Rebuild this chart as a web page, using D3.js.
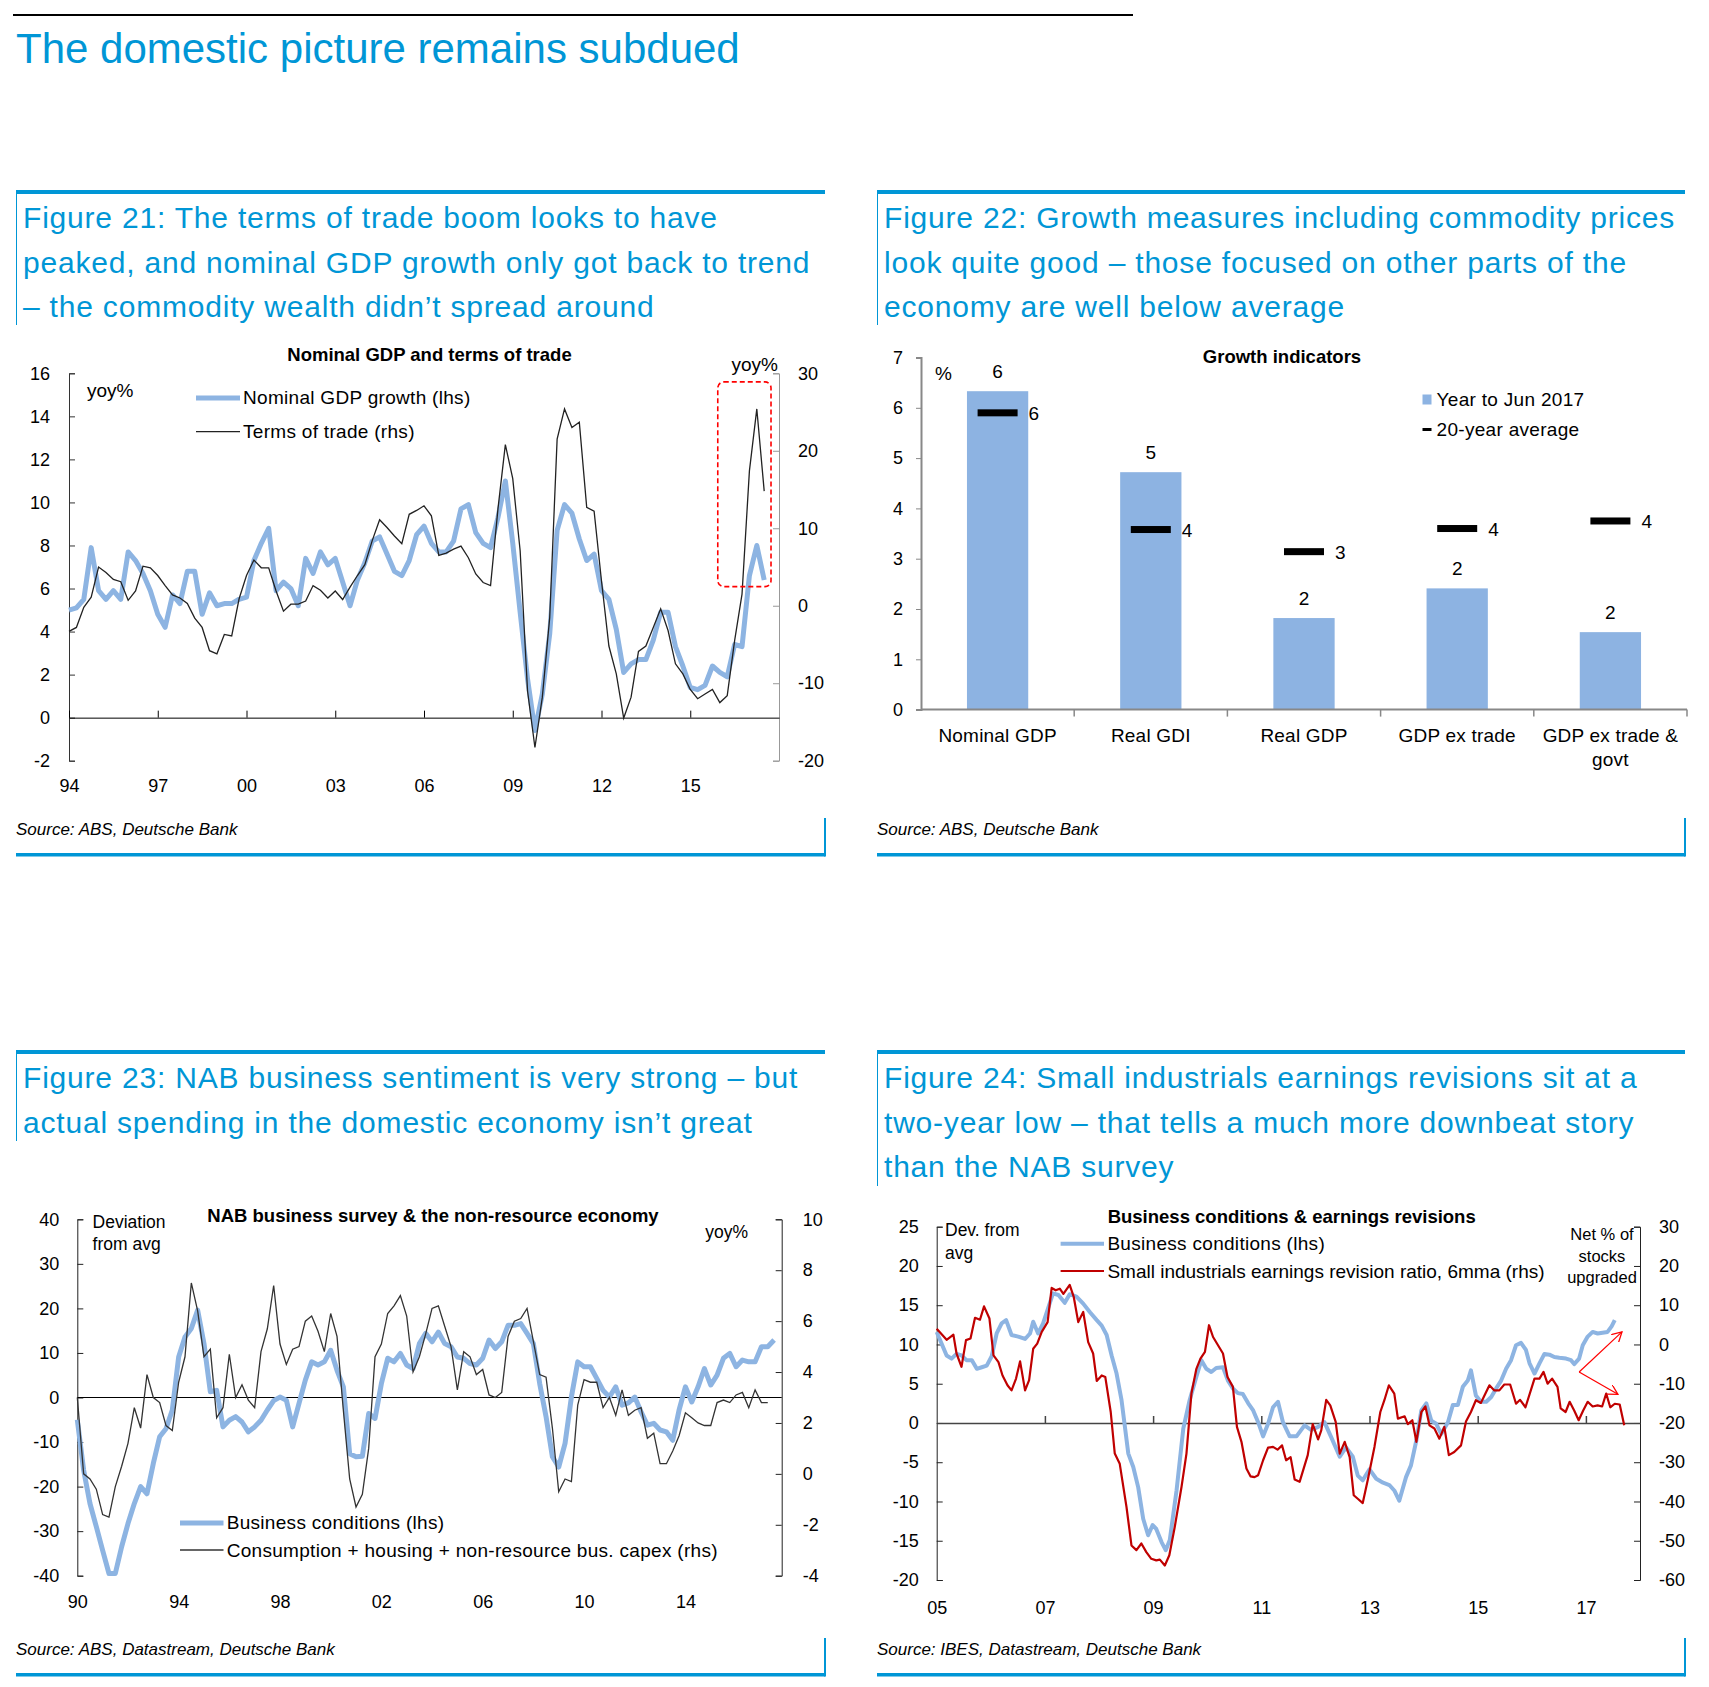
<!DOCTYPE html>
<html>
<head>
<meta charset="utf-8">
<script src="https://cdn.jsdelivr.net/npm/d3@7"></script>
<style>
body { margin: 0; background: #fff; }
svg { display: block; font-family: "Liberation Sans", Arial, sans-serif; }
</style>
</head>
<body>
<script>
// ---- Figure 21 : quarterly, 1994Q1 .. 2017Q3
var gdpGrowth = [5.0,5.1,5.5,7.9,5.9,5.5,5.9,5.5,7.7,7.3,
  6.7,5.9,4.8,4.2,5.7,5.3,6.8,6.8,4.8,5.8,
  5.2,5.3,5.3,5.5,5.6,7.3,8.1,8.8,5.9,6.3,
  6.0,5.2,7.4,6.7,7.7,7.1,7.4,6.3,5.2,6.4,
  7.2,8.2,8.4,7.6,6.8,6.6,7.3,8.5,8.9,8.1,
  7.7,7.7,8.2,9.7,9.9,8.6,8.1,7.9,9.3,11.0,
  8.1,4.9,1.8,-0.6,1.1,3.9,8.7,9.9,9.5,8.3,
  7.3,7.6,5.9,5.5,4.1,2.1,2.5,2.7,2.7,3.6,
  4.9,4.9,3.3,2.4,1.4,1.3,1.5,2.4,2.1,1.9,
  3.4,3.3,6.6,8.0,6.4]
var termsOfTrade = [-3.3,-2.8,-0.2,1.1,5.0,4.3,3.4,3.1,0.7,1.9,
  5.1,4.9,3.9,2.6,1.4,1.0,0.3,-1.6,-2.8,-5.8,
  -6.2,-3.7,-3.9,0.9,3.9,5.9,4.9,4.9,1.9,-0.7,
  0.2,0.2,0.6,2.6,2.0,1.0,1.9,0.8,2.4,3.9,
  5.3,8.4,11.1,10.1,9.0,8.0,11.8,12.3,12.9,11.6,
  6.5,6.8,7.3,7.7,6.2,4.1,3.0,2.6,12.5,20.8,
  16.4,7.1,-11.0,-18.3,-11.8,-1.5,21.5,25.4,23.0,23.7,
  12.7,12.2,3.2,-5.2,-8.8,-14.5,-11.8,-5.9,-5.2,-2.8,
  -0.4,-3.2,-7.5,-8.8,-10.8,-12.0,-11.4,-10.8,-12.5,-11.6,
  -4.5,1.5,17.4,25.4,14.8]
var fig21Start = 1994
var fig21YearTicks = [1994,1997,2000,2003,2006,2009,2012,2015]
var fig21Box = {x: [2015.93, 2017.73], y: [6.09, 15.6]}

// ---- Figure 22
var growthCats = ["Nominal GDP","Real GDI","Real GDP","GDP ex trade","GDP ex trade & govt"]
var yearToJun2017 = [6.33,4.72,1.82,2.41,1.54]
var avg20y = [5.9,3.58,3.14,3.6,3.75]

// ---- Figure 23 : quarterly from 1990Q1
var nabConditions = [-5.0,-16.3,-23.8,-29.0,-34.3,-39.5,-39.5,-33.5,-28.3,-23.8,
  -20.0,-21.6,-14.8,-8.8,-7.0,-2.8,9.1,13.6,15.5,19.6,
  12.1,1.3,1.6,-6.6,-5.1,-4.3,-5.5,-7.7,-6.6,-5.1,
  -2.8,-0.7,0.1,-0.6,-6.6,-1.3,3.9,8.0,7.3,8.0,
  10.6,6.1,2.4,-12.6,-13.3,-13.2,-3.6,-4.7,3.1,8.8,
  8.0,9.9,7.3,6.5,12.1,14.4,12.5,14.7,12.1,11.4,
  9.1,8.8,7.6,7.3,8.8,12.9,11.0,12.5,16.2,16.2,
  16.6,14.4,12.1,3.1,-4.3,-13.3,-15.6,-10.3,0.1,8.0,
  6.9,6.9,4.3,1.6,0.1,2.4,-1.7,-1.2,0.1,-3.2,
  -6.2,-5.8,-7.3,-7.7,-9.6,-2.8,2.4,-1.0,2.4,6.5,
  2.8,5.0,8.8,9.9,6.9,8.4,8.0,8.0,11.4,11.4,
  12.9]
var nonResource = [3.0,0.0,-0.2,-0.6,-1.6,-1.7,-0.5,0.3,1.2,2.6,
  1.8,3.9,3.0,2.8,1.9,1.7,3.6,4.6,7.5,6.4,
  4.6,4.9,2.2,2.6,4.7,3.0,3.5,2.9,2.6,4.8,
  5.7,7.4,5.1,4.3,4.9,5.0,6.0,6.2,5.6,4.8,
  6.3,5.4,2.5,-0.2,-1.3,-0.8,1.0,4.6,5.1,6.3,
  6.6,7.0,6.2,4.0,4.6,5.5,6.5,6.6,5.8,5.0,
  3.3,4.8,4.6,3.9,4.1,3.1,3.0,3.2,5.4,6.0,
  6.1,6.5,5.2,3.9,3.8,1.8,-0.7,-0.2,-0.3,2.7,
  3.7,3.6,3.6,2.6,3.0,2.3,3.3,2.3,2.5,2.6,
  1.4,1.6,0.4,0.4,0.9,1.5,2.4,2.2,2.0,1.9,
  1.9,2.8,2.9,2.8,3.1,3.2,2.6,3.3,2.8,2.8]
var fig23Start = 1990
var fig23YearTicks = [1990,1994,1998,2002,2006,2010,2014]

// ---- Figure 24 : [months since Jan 2005, value]
var bizCond = [[0,11.6],[1.1,10.1],[2.2,8.6],[3.3,8.2],[4.4,8.8],[5.5,8.6],[6.6,8.0],[7.8,8.0],[8.9,6.9],[10,7.1],
  [11.1,7.3],[12.2,8.5],[13.3,11.4],[14.4,12.7],[15.4,13.1],[16.6,11.2],[18.1,11.0],[19.6,10.7],[20.7,11.4],[21.4,12.9],
  [22.5,11.4],[23.6,12.7],[24.7,14.6],[25.8,16.5],[27,16.3],[28.4,15.3],[29.5,16.4],[31,16.1],[32.5,15.2],[34,14.1],
  [35.5,13.1],[36.6,12.4],[37.7,11.2],[38.8,8.6],[39.9,6.3],[41,2.9],[42.5,-3.9],[43.6,-5.6],[44.7,-8.2],[45.8,-12.2],
  [46.9,-14.3],[47.9,-13.0],[48.7,-13.5],[49.9,-15.2],[50.8,-16.2],[51.7,-14.9],[53.2,-8.6],[54.7,-0.7],[56.1,2.9],[57.6,5.9],
  [58.7,8.0],[59.8,6.9],[60.9,6.5],[62,7.0],[63.5,7.1],[64.6,5.4],[65.7,4.4],[66.8,3.8],[67.9,3.7],[69.1,2.5],
  [70.2,1.6],[71.3,0.1],[72.4,-1.7],[73.5,-0.1],[74.6,2.0],[75.7,2.7],[76.8,0.1],[78.3,-1.7],[79.8,-1.7],[81.6,-0.3],
  [83.1,-0.9],[84.6,-0.5],[86,0.1],[87.5,-1.8],[89.4,-4.3],[90.8,-3.1],[92.3,-4.3],[93.4,-6.7],[94.5,-7.3],[96,-5.9],
  [97.5,-7.1],[99,-7.6],[100.4,-7.9],[101.5,-8.6],[102.6,-9.9],[104.1,-6.9],[105.2,-5.4],[106.4,-2.2],[107.5,1.6],[108.6,2.5],
  [109.7,0.3],[110.8,-0.1],[111.9,-1.4],[113.4,0.1],[114.5,2.3],[115.6,2.3],[116.7,4.6],[117.8,5.4],[118.5,6.7],[119.6,3.5],
  [120.7,2.7],[121.9,2.7],[123,3.3],[124.1,4.4],[125.2,5.4],[126.3,6.9],[127.4,8.0],[128.5,9.9],[129.6,10.2],[130.7,9.3],
  [131.5,7.6],[132.6,6.3],[133.7,7.6],[134.8,8.8],[135.9,8.7],[137,8.4],[138.1,8.3],[139.6,8.2],[140.7,8.0],[141.4,7.5],
  [142.5,8.2],[143.3,9.9],[144.4,11.0],[145.5,11.6],[146.6,11.4],[147.7,11.5],[148.8,11.6],[149.7,12.3],[150.4,13.1]]
var revRatio = [[0,4.0],[1.1,2.6],[2.2,1.2],[3,1.9],[3.7,2.5],[4.4,-2.3],[5.5,-5.7],[6.5,1.1],[7.5,1.5],[8.5,6.8],
  [9.6,6.3],[10.5,9.7],[11.7,6.6],[12.6,-2.8],[13.7,-4.5],[14.6,-7.9],[15.7,-10.4],[16.6,-11.7],[17.6,-8.7],[18.5,-4.3],
  [19.6,-11.7],[20.5,-9.1],[21.4,-1.1],[22.3,0.2],[23.3,3.2],[24.6,5.7],[25.5,14.4],[26.4,13.8],[27.3,14.2],[28.1,12.9],
  [29.5,15.2],[30.4,12.1],[31.4,5.7],[32.5,8.3],[33.6,0.6],[34.7,-2.3],[35.5,-9.3],[36.6,-7.9],[37.4,-8.3],[38.6,-17.2],
  [39.5,-27.8],[40.6,-30.4],[42.1,-41.4],[43.2,-51.2],[44.3,-52.4],[45.4,-50.7],[46.5,-52.9],[47.6,-54.6],[48.7,-55.0],[49.5,-54.8],
  [50.6,-56.3],[51.6,-53.7],[52.8,-46.5],[54.3,-36.3],[55.4,-27.8],[56.5,-12.5],[57.6,-6.2],[58.5,-3.6],[59.5,-1.9],[60.4,4.9],
  [61.3,1.9],[62.4,-0.2],[63.5,-2.3],[64.5,-8.3],[65.7,-10.8],[66.6,-21.0],[67.6,-24.8],[68.7,-31.6],[69.6,-33.6],[70.5,-33.8],
  [71.3,-33.3],[72.4,-29.5],[73.5,-26.3],[74.6,-26.1],[75.6,-26.8],[76.6,-25.7],[77.5,-29.5],[78.5,-28.7],[79.4,-34.4],[80.5,-35.0],
  [82.3,-28.2],[83.4,-20.3],[84.6,-24.2],[85.3,-21.9],[86.4,-14.1],[87.3,-15.5],[88.5,-19.7],[89.4,-27.8],[90.5,-24.8],[91.6,-28.7],
  [92.5,-38.4],[93.4,-39.3],[94.5,-40.4],[95.6,-34.6],[97.1,-26.1],[98.4,-17.2],[99.3,-14.2],[100.3,-10.4],[101.5,-12.5],[102.3,-18.9],
  [103.8,-18.3],[104.5,-20.3],[105.5,-19.3],[106.4,-24.8],[107.5,-17.2],[108.4,-15.8],[109.3,-20.6],[110.4,-21.4],[111.5,-24.0],[112.6,-21.0],
  [113.6,-28.2],[114.8,-27.4],[116.3,-25.7],[117.4,-19.6],[118.5,-17.2],[119.6,-14.2],[120.7,-14.9],[122.6,-10.4],[123.7,-11.7],[124.8,-11.7],
  [125.9,-10.2],[127.2,-10.2],[128.5,-15.1],[129.4,-14.1],[130.6,-16.0],[132.6,-8.7],[133.7,-8.7],[134.6,-7.0],[135.5,-10.0],[136.5,-8.7],
  [137.7,-10.8],[138.4,-16.3],[139.5,-17.2],[140.4,-14.6],[141.4,-16.8],[142.4,-19.3],[143.4,-16.8],[144.4,-14.6],[145.5,-15.8],[146.6,-15.5],
  [147.6,-15.8],[148.5,-12.5],[149.4,-16.0],[150.4,-15.1],[151.5,-15.3],[152.5,-20.6]]
var fig24Start = 2005
var fig24YearTicks = [2005,2007,2009,2011,2013,2015,2017]
var arrowFrom = [142.5, 6.5]
var arrowTo = [[152, 11.6], [151.1, 3.65]]

var BLUE_T = "#0096d6", LINE_BLUE = "#8db4e2", FONT = "Liberation Sans, Arial, sans-serif"

var svg = d3.select("body").append("svg").attr("width", 1709).attr("height", 1687)

var defs = svg.append("defs")
defs.append("marker").attr("id", "arr").attr("viewBox", "0 0 10 10").attr("refX", 9).attr("refY", 5)
  .attr("markerWidth", 9).attr("markerHeight", 9).attr("orient", "auto-start-reverse")
  .append("path").attr("d", "M0,0 L9,5 L0,10").attr("fill", "none").attr("stroke", "#ff0000").attr("stroke-width", 1.2)

function txt(g, x, y, s, size, opts) {
  opts = opts || {}
  return g.append("text").attr("x", x).attr("y", y).text(s)
    .attr("font-size", size).attr("fill", opts.fill || "#000")
    .attr("text-anchor", opts.anchor || "start")
    .attr("font-weight", opts.weight || "normal")
    .attr("font-style", opts.style || "normal")
    .attr("letter-spacing", opts.ls || 0)
}
function styleAxis(g, col, size) {
  g.attr("font-family", FONT).attr("font-size", size || 18)
  g.selectAll("path, line").attr("stroke", col)
  g.selectAll("text").attr("fill", "#000")
}
var yrFmt = function(d) { return String(d % 100).padStart(2, "0") }
var plain = function(d) { return String(d) }
var LEG = {ls: 0.3}

// ---- page header
svg.append("line").attr("x1", 13).attr("x2", 1133).attr("y1", 15).attr("y2", 15).attr("stroke", "#000").attr("stroke-width", 2)
txt(svg, 16, 63, "The domestic picture remains subdued", 42, {fill: BLUE_T})

// ---- figure frames
function frame(x0, x1, top, lines, lineBottom, srcY, src, botY) {
  svg.append("rect").attr("x", x0).attr("y", top - 2).attr("width", x1 - x0).attr("height", 4).attr("fill", BLUE_T)
  svg.append("line").attr("x1", x0 + 0.5).attr("x2", x0 + 0.5).attr("y1", top).attr("y2", lineBottom).attr("stroke", BLUE_T).attr("stroke-width", 1)
  lines.forEach(function(s, i) { txt(svg, x0 + 7, top + 36 + i * 44.6, s, 30, {fill: BLUE_T, ls: 0.8}) })
  txt(svg, x0, srcY, src, 17, {style: "italic"})
  svg.append("rect").attr("x", x0).attr("y", botY - 2).attr("width", x1 - x0).attr("height", 3.5).attr("fill", BLUE_T)
  svg.append("line").attr("x1", x1).attr("x2", x1).attr("y1", botY - 37).attr("y2", botY + 1.5).attr("stroke", BLUE_T).attr("stroke-width", 2)
}
frame(16, 825, 192, ["Figure 21: The terms of trade boom looks to have",
  "peaked, and nominal GDP growth only got back to trend",
  "\u2013 the commodity wealth didn\u2019t spread around"], 325, 835, "Source: ABS, Deutsche Bank", 855)
frame(877, 1685, 192, ["Figure 22: Growth measures including commodity prices",
  "look quite good \u2013 those focused on other parts of the",
  "economy are well below average"], 325, 835, "Source: ABS, Deutsche Bank", 855)
frame(16, 825, 1052, ["Figure 23: NAB business sentiment is very strong \u2013 but",
  "actual spending in the domestic economy isn\u2019t great"], 1141, 1655, "Source: ABS, Datastream, Deutsche Bank", 1675)
frame(877, 1685, 1052, ["Figure 24: Small industrials earnings revisions sit at a",
  "two-year low \u2013 that tells a much more downbeat story",
  "than the NAB survey"], 1186, 1655, "Source: IBES, Datastream, Deutsche Bank", 1675)

// ================= Figure 21 chart
;(function() {
  var g = svg.append("g")
  var x = d3.scaleLinear().domain([1994, 2018]).range([69, 779])
  var yL = d3.scaleLinear().domain([-2, 16]).range([760.7, 373.3])
  var yR = d3.scaleLinear().domain([-20, 30]).range([760.7, 373.3])
  var q = function(i) { return fig21Start + i * 0.25 }

  var ax = g.append("g").attr("transform", "translate(69,0)")
    .call(d3.axisLeft(yL).tickValues(d3.range(-2, 17, 2)).tickFormat(plain).tickSize(-6).tickSizeOuter(-6).tickPadding(19))
  styleAxis(ax, "#333")
  var axr = g.append("g").attr("transform", "translate(779,0)")
    .call(d3.axisRight(yR).tickValues(d3.range(-20, 31, 10)).tickFormat(plain).tickSize(-6).tickSizeOuter(-6).tickPadding(19))
  styleAxis(axr, "#999")
  var ax0 = g.append("g").attr("transform", "translate(0," + yL(0) + ")")
    .call(d3.axisBottom(x).tickValues(fig21YearTicks).tickFormat("").tickSize(-7).tickSizeOuter(0))
  styleAxis(ax0, "#000")
  var axl = g.append("g").attr("transform", "translate(0,760.7)")
    .call(d3.axisBottom(x).tickValues(fig21YearTicks).tickFormat(yrFmt).tickSize(0).tickPadding(19))
  styleAxis(axl, "#000")
  axl.select(".domain").remove()

  g.append("path").datum(gdpGrowth).attr("fill", "none").attr("stroke", LINE_BLUE).attr("stroke-width", 5)
    .attr("stroke-linejoin", "round")
    .attr("d", d3.line().x(function(d, i) { return x(q(i)) }).y(function(d) { return yL(d) }))
  g.append("path").datum(termsOfTrade).attr("fill", "none").attr("stroke", "#222").attr("stroke-width", 1.3)
    .attr("d", d3.line().x(function(d, i) { return x(q(i)) }).y(function(d) { return yR(d) }))

  g.append("rect").attr("x", x(fig21Box.x[0])).attr("y", yL(fig21Box.y[1]))
    .attr("width", x(fig21Box.x[1]) - x(fig21Box.x[0])).attr("height", yL(fig21Box.y[0]) - yL(fig21Box.y[1]))
    .attr("rx", 6).attr("fill", "none").attr("stroke", "#ff0000").attr("stroke-width", 1.6).attr("stroke-dasharray", "5,3")

  txt(g, 429.5, 361, "Nominal GDP and terms of trade", 18.5, {anchor: "middle", weight: "bold"})
  txt(g, 87, 397, "yoy%", 19)
  txt(g, 778, 371, "yoy%", 19, {anchor: "end"})
  g.append("line").attr("x1", 196).attr("x2", 240).attr("y1", 398).attr("y2", 398).attr("stroke", LINE_BLUE).attr("stroke-width", 5)
  txt(g, 243, 404, "Nominal GDP growth (lhs)", 19, LEG)
  g.append("line").attr("x1", 196).attr("x2", 240).attr("y1", 431.6).attr("y2", 431.6).attr("stroke", "#222").attr("stroke-width", 1.3)
  txt(g, 243, 438, "Terms of trade (rhs)", 19, LEG)
})()

// ================= Figure 22 chart
;(function() {
  var g = svg.append("g")
  var x0 = 921, x1 = 1687
  var x = d3.scaleBand().domain(growthCats).range([x0, x1]).paddingInner(0.6).paddingOuter(0.3)
  var y = d3.scaleLinear().domain([0, 7]).range([709.6, 357.5])
  var step = x.step()

  var ay = g.append("g").attr("transform", "translate(" + x0 + ",0)")
    .call(d3.axisLeft(y).ticks(7).tickFormat(plain).tickSize(5).tickSizeOuter(5).tickPadding(13))
  styleAxis(ay, "#888")
  ay.select(".domain").attr("stroke-width", 2)

  g.selectAll("rect.bar").data(yearToJun2017).join("rect").attr("class", "bar")
    .attr("x", function(d, i) { return x(growthCats[i]) }).attr("width", x.bandwidth())
    .attr("y", function(d) { return y(d) }).attr("height", function(d) { return y(0) - y(d) })
    .attr("fill", "#8db3e2")
  g.selectAll("text.bl").data(yearToJun2017).join("text").attr("class", "bl")
    .attr("x", function(d, i) { return x(growthCats[i]) + x.bandwidth() / 2 }).attr("y", function(d) { return y(d) - 13 })
    .attr("text-anchor", "middle").attr("font-size", 19).text(function(d) { return Math.round(d) })
  g.selectAll("rect.avg").data(avg20y).join("rect").attr("class", "avg")
    .attr("x", function(d, i) { return x(growthCats[i]) + x.bandwidth() / 2 - 20 }).attr("width", 40)
    .attr("y", function(d) { return y(d) - 3.5 }).attr("height", 7).attr("fill", "#000")
  g.selectAll("text.al").data(avg20y).join("text").attr("class", "al")
    .attr("x", function(d, i) { return x(growthCats[i]) + x.bandwidth() / 2 + 31 }).attr("y", function(d) { return y(d) + 7 })
    .attr("font-size", 19).text(function(d) { return Math.round(d) })

  g.append("line").attr("x1", x0).attr("x2", x1).attr("y1", y(0)).attr("y2", y(0)).attr("stroke", "#888").attr("stroke-width", 2)
  g.selectAll("line.xt").data(d3.range(1, growthCats.length + 1)).join("line").attr("class", "xt")
    .attr("x1", function(k) { return x0 + k * step }).attr("x2", function(k) { return x0 + k * step })
    .attr("y1", y(0)).attr("y2", y(0) + 7).attr("stroke", "#888").attr("stroke-width", 1.5)
  growthCats.forEach(function(c, i) {
    var cx = x(c) + x.bandwidth() / 2
    if (c.length > 14) {
      txt(g, cx, 742, "GDP ex trade &", 19, {anchor: "middle", ls: 0.2})
      txt(g, cx, 766, "govt", 19, {anchor: "middle", ls: 0.2})
    } else {
      txt(g, cx, 742, c, 19, {anchor: "middle", ls: 0.2})
    }
  })

  txt(g, 1282, 363, "Growth indicators", 18.5, {anchor: "middle", weight: "bold"})
  txt(g, 935, 380, "%", 19)
  g.append("rect").attr("x", 1422.5).attr("y", 394.5).attr("width", 9).attr("height", 10).attr("fill", "#8db3e2")
  txt(g, 1436.6, 406, "Year to Jun 2017", 19, LEG)
  g.append("rect").attr("x", 1422.5).attr("y", 428).attr("width", 9).attr("height", 3).attr("fill", "#000")
  txt(g, 1436.6, 436, "20-year average", 19, LEG)
})()

// ================= Figure 23 chart
;(function() {
  var g = svg.append("g")
  var x = d3.scaleLinear().domain([1990, 2017.8]).range([77.3, 781.7])
  var yL = d3.scaleLinear().domain([-40, 40]).range([1575.7, 1219.3])
  var yR = d3.scaleLinear().domain([-4, 10]).range([1575.7, 1219.3])
  var q = function(i) { return fig23Start + i * 0.25 }

  var ax = g.append("g").attr("transform", "translate(77.3,0)")
    .call(d3.axisLeft(yL).tickValues(d3.range(-40, 41, 10)).tickFormat(plain).tickSize(-6).tickSizeOuter(-6).tickPadding(18))
  styleAxis(ax, "#222")
  var axr = g.append("g").attr("transform", "translate(781.7,0)")
    .call(d3.axisRight(yR).tickValues(d3.range(-4, 11, 2)).tickFormat(plain).tickSize(-6).tickSizeOuter(-6).tickPadding(21))
  styleAxis(axr, "#222")
  g.append("line").attr("x1", 77.3).attr("x2", 781.7).attr("y1", yL(0)).attr("y2", yL(0)).attr("stroke", "#000").attr("stroke-width", 1.2)
  var axl = g.append("g").attr("transform", "translate(0,1575.7)")
    .call(d3.axisBottom(x).tickValues(fig23YearTicks).tickFormat(yrFmt).tickSize(0).tickPadding(20))
  styleAxis(axl, "#000")
  axl.select(".domain").remove()

  g.append("path").datum(nabConditions).attr("fill", "none").attr("stroke", LINE_BLUE).attr("stroke-width", 5)
    .attr("stroke-linejoin", "round")
    .attr("d", d3.line().x(function(d, i) { return x(q(i)) }).y(function(d) { return yL(d) }))
  g.append("path").datum(nonResource).attr("fill", "none").attr("stroke", "#333").attr("stroke-width", 1.3)
    .attr("d", d3.line().x(function(d, i) { return x(q(i)) }).y(function(d) { return yR(d) }))

  txt(g, 433, 1222, "NAB business survey & the non-resource economy", 18.5, {anchor: "middle", weight: "bold"})
  txt(g, 92.6, 1228.4, "Deviation", 17.5)
  txt(g, 92.6, 1250, "from avg", 17.5)
  txt(g, 748, 1238, "yoy%", 17.5, {anchor: "end"})
  g.append("line").attr("x1", 180).attr("x2", 223.5).attr("y1", 1523).attr("y2", 1523).attr("stroke", LINE_BLUE).attr("stroke-width", 5)
  txt(g, 226.7, 1529, "Business conditions (lhs)", 19, LEG)
  g.append("line").attr("x1", 180).attr("x2", 223.5).attr("y1", 1550).attr("y2", 1550).attr("stroke", "#333").attr("stroke-width", 1.3)
  txt(g, 226.7, 1556.5, "Consumption + housing + non-resource bus. capex (rhs)", 19, LEG)
})()

// ================= Figure 24 chart
;(function() {
  var g = svg.append("g")
  var x = d3.scaleLinear().domain([2005, 2018]).range([936.7, 1640])
  var yL = d3.scaleLinear().domain([-20, 25]).range([1580, 1226.7])
  var yR = d3.scaleLinear().domain([-60, 30]).range([1580, 1226.7])
  var m = function(v) { return fig24Start + v / 12 }

  var ax = g.append("g").attr("transform", "translate(936.7,0)")
    .call(d3.axisLeft(yL).tickValues(d3.range(-20, 26, 5)).tickFormat(plain).tickSize(-6).tickSizeOuter(-6).tickPadding(18))
  styleAxis(ax, "#222")
  var axr = g.append("g").attr("transform", "translate(1640,0)")
    .call(d3.axisRight(yR).tickValues(d3.range(-60, 31, 10)).tickFormat(plain).tickSize(-6).tickSizeOuter(-6).tickPadding(19))
  styleAxis(axr, "#222")
  var ax0 = g.append("g").attr("transform", "translate(0," + yL(0) + ")")
    .call(d3.axisBottom(x).tickValues(fig24YearTicks.slice(1)).tickFormat("").tickSize(-7).tickSizeOuter(0))
  styleAxis(ax0, "#444")
  ax0.selectAll("path, line").attr("stroke-width", 1.5)
  var axl = g.append("g").attr("transform", "translate(0,1580)")
    .call(d3.axisBottom(x).tickValues(fig24YearTicks).tickFormat(yrFmt).tickSize(0).tickPadding(21))
  styleAxis(axl, "#000")
  axl.select(".domain").remove()

  g.append("path").datum(bizCond).attr("fill", "none").attr("stroke", LINE_BLUE).attr("stroke-width", 4)
    .attr("stroke-linejoin", "round")
    .attr("d", d3.line().x(function(d) { return x(m(d[0])) }).y(function(d) { return yL(d[1]) }))
  g.append("path").datum(revRatio).attr("fill", "none").attr("stroke", "#c00000").attr("stroke-width", 2.2)
    .attr("stroke-linejoin", "round")
    .attr("d", d3.line().x(function(d) { return x(m(d[0])) }).y(function(d) { return yR(d[1]) }))

  arrowTo.forEach(function(p) {
    g.append("line").attr("x1", x(m(arrowFrom[0]))).attr("y1", yL(arrowFrom[1]))
      .attr("x2", x(m(p[0]))).attr("y2", yL(p[1]))
      .attr("stroke", "#ff0000").attr("stroke-width", 1.2).attr("marker-end", "url(#arr)")
  })

  txt(g, 1291.7, 1223, "Business conditions & earnings revisions", 18.5, {anchor: "middle", weight: "bold"})
  txt(g, 945, 1236, "Dev. from", 17.5)
  txt(g, 945, 1259, "avg", 17.5)
  txt(g, 1602, 1240, "Net % of", 16.5, {anchor: "middle"})
  txt(g, 1602, 1262, "stocks", 16.5, {anchor: "middle"})
  txt(g, 1602, 1283, "upgraded", 16.5, {anchor: "middle"})
  g.append("line").attr("x1", 1060.6).attr("x2", 1104).attr("y1", 1243.7).attr("y2", 1243.7).attr("stroke", LINE_BLUE).attr("stroke-width", 4)
  txt(g, 1107.4, 1250, "Business conditions (lhs)", 19, LEG)
  g.append("line").attr("x1", 1060.6).attr("x2", 1104).attr("y1", 1271).attr("y2", 1271).attr("stroke", "#c00000").attr("stroke-width", 2.2)
  txt(g, 1107.4, 1277.5, "Small industrials earnings revision ratio, 6mma  (rhs)", 19)
})()
</script>
</body>
</html>
